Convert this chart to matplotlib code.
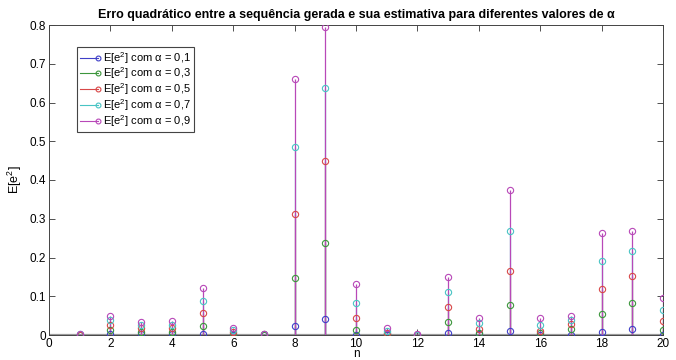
import matplotlib
matplotlib.use("Agg")
import matplotlib.pyplot as plt
from matplotlib.lines import Line2D
from matplotlib.legend_handler import HandlerBase
import numpy as np

n = list(range(1, 21))
e_01 = [0.001, 0.002, 0.002, 0.002, 0.003, 0.001, 0.001, 0.022, 0.042, 0.001,
        0.001, 0.001, 0.004, 0.002, 0.010, 0.001, 0.001, 0.007, 0.015, 0.001]
e_03 = [0.001, 0.012, 0.009, 0.009, 0.024, 0.003, 0.001, 0.148, 0.237, 0.013,
        0.002, 0.001, 0.034, 0.006, 0.077, 0.004, 0.015, 0.053, 0.082, 0.013]
e_05 = [0.001, 0.025, 0.018, 0.018, 0.056, 0.007, 0.002, 0.313, 0.449, 0.043,
        0.005, 0.001, 0.072, 0.015, 0.166, 0.011, 0.028, 0.120, 0.152, 0.036]
e_07 = [0.002, 0.038, 0.026, 0.027, 0.088, 0.012, 0.002, 0.485, 0.637, 0.083,
        0.010, 0.001, 0.112, 0.030, 0.268, 0.025, 0.040, 0.192, 0.216, 0.065]
e_09 = [0.002, 0.050, 0.034, 0.036, 0.122, 0.019, 0.002, 0.660, 0.795, 0.132,
        0.019, 0.002, 0.150, 0.043, 0.375, 0.043, 0.049, 0.262, 0.268, 0.096]

series = [e_01, e_03, e_05, e_07, e_09]
labels = ['E[e$^2$] com α = 0,1', 'E[e$^2$] com α = 0,3',
          'E[e$^2$] com α = 0,5', 'E[e$^2$] com α = 0,7',
          'E[e$^2$] com α = 0,9']
colors = ['#4040c8', '#3c963c', '#d84848', '#48c4c4', '#b848b8']

xticks = list(range(0, 21, 2))
yticks = [0, 0.1, 0.2, 0.3, 0.4, 0.5, 0.6, 0.7, 0.8]
yticklabels = ['0', '0.1', '0.2', '0.3', '0.4', '0.5', '0.6', '0.7', '0.8']

plt.rcParams['font.family'] = ['Liberation Sans', 'DejaVu Sans']
plt.rcParams['mathtext.fontset'] = 'custom'
plt.rcParams['mathtext.rm'] = 'Liberation Sans'
plt.rcParams['mathtext.it'] = 'Liberation Sans:italic'

fig = plt.figure(figsize=(6.76, 3.6), dpi=100)
ax = fig.add_axes([49/676, 25/360, (663-49)/676, 310/360])

ax.axhline(0, color='#999999', lw=1.6, zorder=1)

handles = []
for i, (vals, c, lab) in enumerate(zip(series, colors, labels)):
    ax.vlines(n, 0, vals, colors=c, lw=0.9, zorder=2 + 0.1 * i)
    ax.plot(n, vals, linestyle='none', marker='o', ms=4.5, mfc='none',
            mec=c, mew=0.8, zorder=3)
    handles.append(Line2D([], [], color=c))


class StemHandler(HandlerBase):
    def create_artists(self, legend, orig_handle, xdescent, ydescent,
                       width, height, fontsize, trans):
        c = orig_handle.get_color()
        y = height / 2 - ydescent
        ln = Line2D([-xdescent, width - xdescent], [y, y], color=c, lw=0.8,
                    transform=trans)
        mk = Line2D([width - xdescent], [y], marker='o', ms=3.5, mfc='none',
                    mec=c, mew=0.8, linestyle='none', transform=trans)
        return [ln, mk]


leg = ax.legend(handles, labels, loc='upper left',
                bbox_to_anchor=(28/614, 1 - 22/310),
                handler_map={Line2D: StemHandler()},
                fontsize=8, frameon=True, fancybox=False,
                edgecolor='#444444', framealpha=1, borderpad=0.25,
                labelspacing=0.0, handlelength=1.6, handletextpad=0.5,
                borderaxespad=0)
leg.get_frame().set_linewidth(0.8)

ax.set_xlim(0, 20)
ax.set_ylim(0, 0.8)
ax.set_xticks(xticks)
ax.set_yticks(yticks)
ax.set_yticklabels(yticklabels)
ax.tick_params(direction='in', length=4, width=0.6, top=True, right=True,
               labelsize=8.5, colors='#333333', labelcolor='black', pad=2)
for s in ax.spines.values():
    s.set_linewidth(0.7)
    s.set_color('#444444')

ax.set_title('Erro quadrático entre a sequência gerada e sua estimativa para diferentes valores de α',
             fontsize=9, fontweight='bold', pad=5)
ax.set_xlabel('n', fontsize=8.5, va='top')
ax.xaxis.set_label_coords(0.5, -0.043)
ax.set_ylabel('E[e$^2$]', fontsize=9, labelpad=4)

fig.savefig('out.png', dpi=100)
